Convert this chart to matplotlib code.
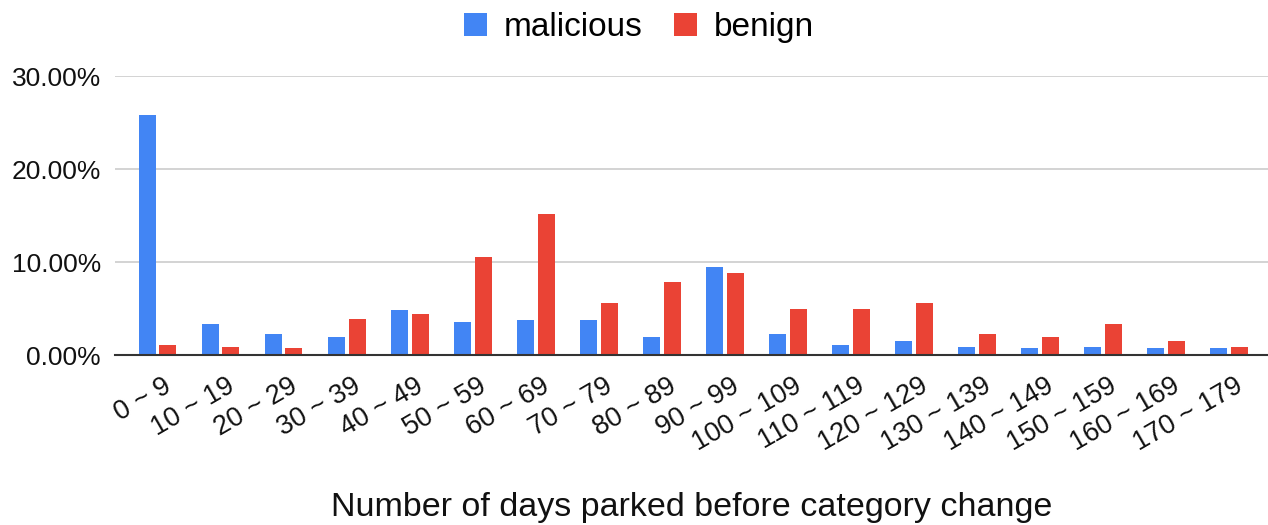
import numpy as np
import matplotlib.pyplot as plt
import matplotlib.transforms as mtransforms
from matplotlib.ticker import FuncFormatter

plt.rcParams['font.family'] = ['Liberation Sans', 'DejaVu Sans']

categories = ['0 ~ 9', '10 ~ 19', '20 ~ 29', '30 ~ 39', '40 ~ 49', '50 ~ 59',
              '60 ~ 69', '70 ~ 79', '80 ~ 89', '90 ~ 99', '100 ~ 109', '110 ~ 119',
              '120 ~ 129', '130 ~ 139', '140 ~ 149', '150 ~ 159', '160 ~ 169', '170 ~ 179']
malicious = [25.8, 3.3, 2.3, 1.9, 4.8, 3.5, 3.8, 3.8, 1.9, 9.5, 2.3, 1.1,
             1.5, 0.9, 0.7, 0.9, 0.7, 0.7]
benign = [1.1, 0.9, 0.7, 3.9, 4.4, 10.5, 15.2, 5.6, 7.8, 8.8, 5.0, 5.0,
          5.6, 2.3, 1.9, 3.3, 1.5, 0.9]

blue = '#4285F4'
red = '#EA4335'

fig = plt.figure(figsize=(12.68, 5.25), dpi=100)
ax = fig.add_axes([0.0907, 0.3238, 0.9093, 0.5314])

x = np.arange(len(categories))
w = 0.27
ax.bar(x - 0.165, malicious, w, color=blue, label='malicious', zorder=3)
ax.bar(x + 0.165, benign, w, color=red, label='benign', zorder=3)

ax.set_xlim(-0.675, 17.62)
ax.set_ylim(0, 30)
ax.set_yticks([0, 10, 20, 30])
ax.yaxis.set_major_formatter(FuncFormatter(lambda v, p: f'{v:.2f}%'))
ax.grid(axis='y', color='#cccccc', linewidth=1.2, zorder=0)
for s in ['top', 'right', 'left']:
    ax.spines[s].set_visible(False)
ax.spines['bottom'].set_color('#333333')
ax.spines['bottom'].set_linewidth(1.5)
ax.spines['bottom'].set_zorder(4)
ax.tick_params(axis='both', length=0, labelsize=19, colors='#111111')
ax.tick_params(axis='y', pad=10)

ax.set_xticks(x)
ax.set_xticklabels(categories, rotation=30, ha='right', va='center',
                   rotation_mode='anchor', fontsize=19.5)
ax.tick_params(axis='x', pad=21)
shift = mtransforms.ScaledTranslation(0.12, 0, fig.dpi_scale_trans)
for lab in ax.get_xticklabels():
    lab.set_transform(lab.get_transform() + shift)

fig.legend(loc='center', bbox_to_anchor=(0.504, 0.948), ncol=2, frameon=False,
           fontsize=24, handlelength=0.69, handleheight=0.69, handletextpad=0.5,
           columnspacing=0.95)
ax.text(0.5, -0.545, 'Number of days parked before category change',
        transform=ax.transAxes, ha='center', va='center', fontsize=24.5,
        color='#111111')

fig.savefig('out.png', dpi=100)
